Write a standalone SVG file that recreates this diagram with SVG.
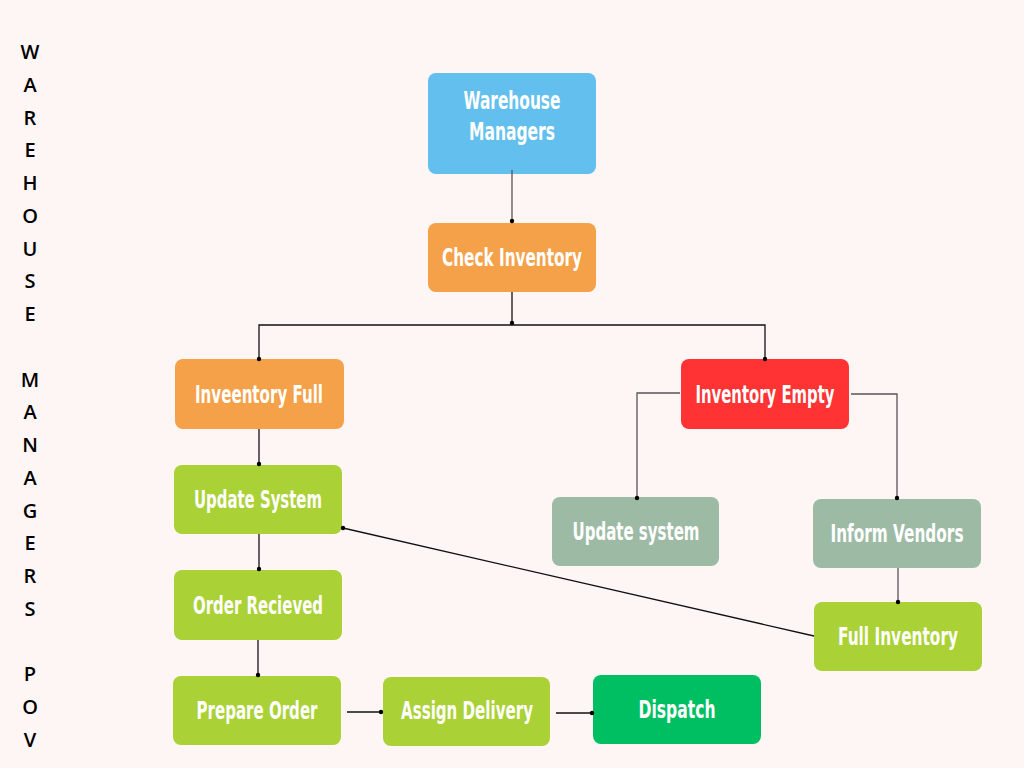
<svg xmlns="http://www.w3.org/2000/svg" width="1024" height="768" viewBox="0 0 1024 768">
<defs>
<style>
.n{font-family:"Liberation Sans Narrow","DejaVu Sans Condensed","Liberation Sans",sans-serif;font-weight:bold;font-size:24px;fill:#ffffff;text-anchor:middle}
.c{fill:none;stroke:#111;stroke-width:1.3}
.g{fill:none;stroke:#555;stroke-width:1.3}
.d{fill:#000}
.side{font-family:"Open Sans","Liberation Sans",sans-serif;font-weight:600;font-size:20px;fill:#000;text-anchor:middle}
.blue{fill:#63bfed}.orange{fill:#f4a14a}.red{fill:#ff3333}.lime{fill:#aad136}.sage{fill:#9dbaa5}.green{fill:#00bf63}
</style>
<marker id="dot" viewBox="0 0 6 6" refX="3" refY="3" markerWidth="6" markerHeight="6" markerUnits="userSpaceOnUse">
<circle cx="3" cy="3" r="2.2" fill="#000"/>
</marker>
</defs>
<rect width="1024" height="768" fill="#fef6f4"/>
<text class="side">
<tspan x="30" y="59">W</tspan><tspan x="30" y="91.75">A</tspan><tspan x="30" y="124.5">R</tspan><tspan x="30" y="157.25">E</tspan><tspan x="30" y="190">H</tspan><tspan x="30" y="222.75">O</tspan><tspan x="30" y="255.5">U</tspan><tspan x="30" y="288.25">S</tspan><tspan x="30" y="321">E</tspan><tspan x="30" y="386.5">M</tspan><tspan x="30" y="419.25">A</tspan><tspan x="30" y="452">N</tspan><tspan x="30" y="484.75">A</tspan><tspan x="30" y="517.5">G</tspan><tspan x="30" y="550.25">E</tspan><tspan x="30" y="583">R</tspan><tspan x="30" y="615.75">S</tspan><tspan x="30" y="681.25">P</tspan><tspan x="30" y="714">O</tspan><tspan x="30" y="746.75">V</tspan>
</text>
<g id="warehouse-managers"><rect class="blue" x="428" y="73" width="168" height="101" rx="8"/><text class="n" x="512" y="109" textLength="97" lengthAdjust="spacingAndGlyphs">Warehouse</text><text class="n" x="512" y="140" textLength="86" lengthAdjust="spacingAndGlyphs">Managers</text></g>
<g id="check-inventory"><rect class="orange" x="428" y="223" width="168" height="69" rx="8"/><text class="n" x="512" y="266" textLength="140" lengthAdjust="spacingAndGlyphs">Check Inventory</text></g>
<g id="inventory-full"><rect class="orange" x="175" y="359" width="169" height="70" rx="8"/><text class="n" x="259" y="403" textLength="128" lengthAdjust="spacingAndGlyphs">Inveentory Full</text></g>
<g id="inventory-empty"><rect class="red" x="681" y="359" width="168" height="70" rx="8"/><text class="n" x="765" y="403" textLength="139" lengthAdjust="spacingAndGlyphs">Inventory Empty</text></g>
<g id="update-system-1"><rect class="lime" x="174" y="465" width="168" height="69" rx="8"/><text class="n" x="258" y="508" textLength="128" lengthAdjust="spacingAndGlyphs">Update System</text></g>
<g id="order-recieved"><rect class="lime" x="174" y="570" width="168" height="70" rx="8"/><text class="n" x="258" y="614" textLength="130" lengthAdjust="spacingAndGlyphs">Order Recieved</text></g>
<g id="prepare-order"><rect class="lime" x="173" y="676" width="168" height="69" rx="8"/><text class="n" x="257" y="719" textLength="121" lengthAdjust="spacingAndGlyphs">Prepare Order</text></g>
<g id="assign-delivery"><rect class="lime" x="383" y="677" width="167" height="69" rx="8"/><text class="n" x="467" y="719" textLength="132" lengthAdjust="spacingAndGlyphs">Assign Delivery</text></g>
<g id="dispatch"><rect class="green" x="593" y="675" width="168" height="69" rx="8"/><text class="n" x="677" y="718" textLength="77" lengthAdjust="spacingAndGlyphs">Dispatch</text></g>
<g id="update-system-2"><rect class="sage" x="552" y="497" width="167" height="69" rx="8"/><text class="n" x="636" y="540" textLength="127" lengthAdjust="spacingAndGlyphs">Update system</text></g>
<g id="inform-vendors"><rect class="sage" x="813" y="499" width="168" height="69" rx="8"/><text class="n" x="897" y="542" textLength="133" lengthAdjust="spacingAndGlyphs">Inform Vendors</text></g>
<g id="full-inventory"><rect class="lime" x="814" y="602" width="168" height="69" rx="8"/><text class="n" x="898" y="645" textLength="120" lengthAdjust="spacingAndGlyphs">Full Inventory</text></g>
<g id="connectors">
<path class="g" d="M512 170 V221" marker-end="url(#dot)"/>
<path class="c" d="M512 292 V323" marker-end="url(#dot)"/>
<path class="c" d="M512 325 H259 V359" marker-end="url(#dot)"/>
<path class="c" d="M512 325 H765 V359" marker-end="url(#dot)"/>
<path class="c" d="M259 429 V464" marker-end="url(#dot)"/>
<path class="c" d="M259 534 V569" marker-end="url(#dot)"/>
<path class="c" d="M258 640 V675" marker-end="url(#dot)"/>
<path class="c" d="M347 712 H381" marker-end="url(#dot)"/>
<path class="c" d="M556 713 H592" marker-end="url(#dot)"/>
<path class="g" d="M680 393 H637 V498" marker-end="url(#dot)"/>
<path class="g" d="M851 394 H897 V498" marker-end="url(#dot)"/>
<path class="g" d="M898 568 V602" marker-end="url(#dot)"/>
<path class="c" d="M814 636 L343 528" marker-end="url(#dot)"/>
</g>
</svg>
